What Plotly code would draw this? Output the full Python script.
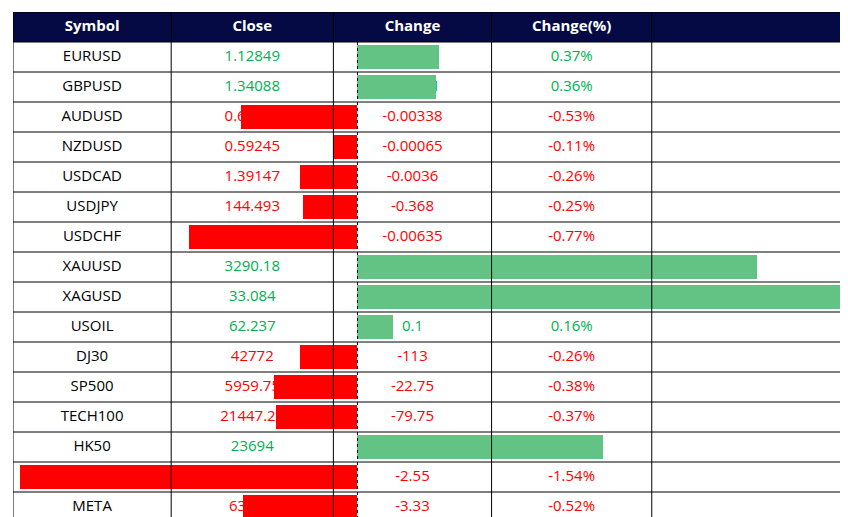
import plotly.graph_objects as go

symbols = ["EURUSD","GBPUSD","AUDUSD","NZDUSD","USDCAD","USDJPY","USDCHF","XAUUSD","XAGUSD","USOIL","DJ30","SP500","TECH100","HK50","GOOG","META"]
close = ["1.12849","1.34088","0.64235","0.59245","1.39147","144.493","0.82826","3290.18","33.084","62.237","42772","5959.75","21447.25","23694","165.32","637.10"]
change = ["0.00421","0.00481","-0.00338","-0.00065","-0.0036","-0.368","-0.00635","59.79","0.738","0.1","-113","-22.75","-79.75","265","-2.55","-3.33"]
pct = [0.37,0.36,-0.53,-0.11,-0.26,-0.25,-0.77,1.82,2.23,0.16,-0.26,-0.38,-0.37,1.12,-1.54,-0.52]
headers = ["Symbol","Close","Change","Change(%)"]

GREEN_T, RED_T = "#00B050", "#FF0000"
GREEN_B, RED_B = "#63C384", "#FF0000"
tcol = [GREEN_T if p >= 0 else RED_T for p in pct]
n = len(symbols)
colw = [158, 162, 158, 160, 197]
edges = [0]
for w in colw:
    edges.append(edges[-1] + w)
W = edges[-1]
centers = [(edges[i] + edges[i+1]) / 2 for i in range(5)]
rows = list(range(n))
FONT = "Open Sans"

fig = go.Figure()
# header background
fig.add_shape(type="rect", xref="x", yref="y", x0=0, x1=W, y0=-1.5, y1=-0.5,
              fillcolor="#050A45", line=dict(width=0), layer="below")
# column texts
cols = [(symbols, ["black"]*n), (close, tcol), (change, tcol), ([f"{p:.2f}%" for p in pct], tcol)]
for i, (vals, colors) in enumerate(cols):
    fig.add_trace(go.Scatter(x=[centers[i]]*n, y=rows, text=vals, mode="text",
                             textfont=dict(color=colors, size=15, family=FONT),
                             xaxis="x", yaxis="y", hoverinfo="skip"))
fig.add_trace(go.Scatter(x=centers[:4], y=[-1]*4, text=[f"<b>{h}</b>" for h in headers], mode="text",
                         textfont=dict(color="white", size=15, family=FONT),
                         xaxis="x", yaxis="y", hoverinfo="skip"))
# bars
fig.add_trace(go.Bar(x=pct, y=rows, orientation="h",
                     marker=dict(color=[GREEN_B if p >= 0 else RED_B for p in pct], line=dict(width=0)),
                     width=0.78, xaxis="x2", yaxis="y", hoverinfo="skip"))
# grid lines
for k in range(-1, n + 1):
    y = k - 0.5
    fig.add_shape(type="line", xref="x", yref="y", x0=0, x1=W, y0=y, y1=y,
                  line=dict(color="black", width=1))
for e in edges:
    fig.add_shape(type="line", xref="x", yref="y", x0=e, x1=e, y0=-1.5, y1=n - 0.5,
                  line=dict(color="black", width=1))
fig.add_shape(type="line", xref="x2", yref="y", x0=0, x1=0, y0=-0.5, y1=n - 0.5,
              line=dict(color="black", width=1, dash="dot"))

fig.update_layout(
    width=848, height=517, margin=dict(l=5, r=7, t=4, b=3),
    paper_bgcolor="white", plot_bgcolor="white", showlegend=False,
    xaxis=dict(domain=[0, 1], range=[0, W], visible=False, fixedrange=True),
    xaxis2=dict(domain=[edges[4] / W + 0.002, 0.999], range=[-1.57, 2.24], visible=False,
                fixedrange=True, anchor="y", overlaying="x"),
    yaxis=dict(domain=[0, 1], range=[n - 0.5, -1.5], visible=False, fixedrange=True),
    bargap=0,
)
fig.write_html("out.html")
